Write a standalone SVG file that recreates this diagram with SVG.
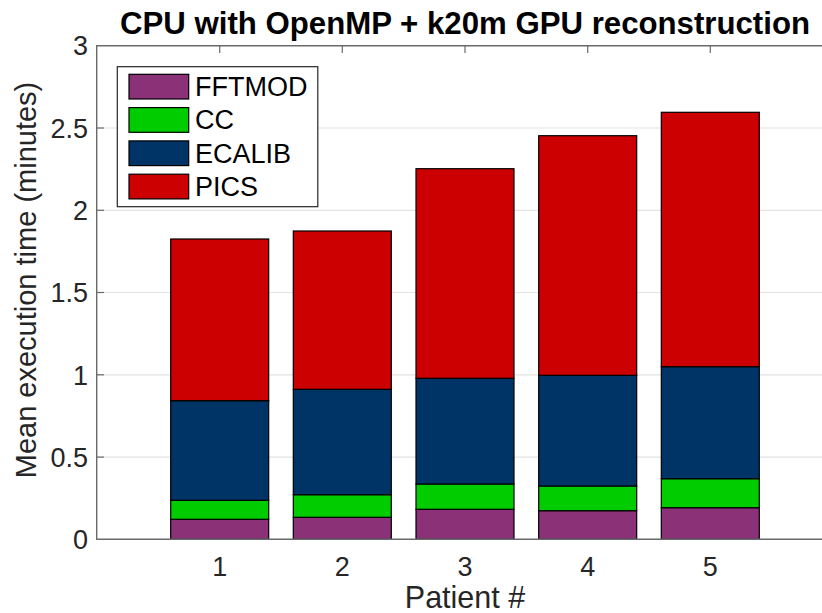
<svg xmlns="http://www.w3.org/2000/svg" width="822" height="613" viewBox="0 0 822 613">
  <style>
    .grid { stroke: #e3e3e3; stroke-width: 1.2; }
    .axis { stroke: #6a6a6a; stroke-width: 1.4; fill: none; }
    .tick { stroke: #6a6a6a; stroke-width: 1.2; }
    .lbl { font-family: "Liberation Sans", Arial, sans-serif; fill: #262626; }
    .ytl { font-size: 27px; text-anchor: end; }
    .xtl { font-size: 27px; text-anchor: middle; }
    .title { font-family: "Liberation Sans", Arial, sans-serif; font-weight: bold; font-size: 31.2px; fill: #000; text-anchor: middle; }
    .bar rect { stroke: #000; stroke-width: 1.2; }
    .fft { fill: #8B3178; }
    .cc { fill: #00CC00; }
    .ecalib { fill: #003366; }
    .pics { fill: #CC0000; }
    .leg { font-family: "Liberation Sans", Arial, sans-serif; font-size: 27px; fill: #000; }
  </style>
  <rect width="822" height="613" fill="#fff"/>

  <!-- horizontal grid -->
  <g id="grid">
    <line class="grid" x1="97" y1="457.1" x2="822" y2="457.1"/>
    <line class="grid" x1="97" y1="374.8" x2="822" y2="374.8"/>
    <line class="grid" x1="97" y1="292.5" x2="822" y2="292.5"/>
    <line class="grid" x1="97" y1="210.3" x2="822" y2="210.3"/>
    <line class="grid" x1="97" y1="128.0" x2="822" y2="128.0"/>
  </g>

  <!-- stacked bars -->
  <g id="bar1" class="bar">
    <rect class="fft" x="170.7" y="519.3" width="98" height="20"/>
    <rect class="cc" x="170.7" y="500.3" width="98" height="19"/>
    <rect class="ecalib" x="170.7" y="400.7" width="98" height="99.6"/>
    <rect class="pics" x="170.7" y="239" width="98" height="161.7"/>
  </g>
  <g id="bar2" class="bar">
    <rect class="fft" x="293.3" y="517.3" width="98" height="22"/>
    <rect class="cc" x="293.3" y="494.7" width="98" height="22.6"/>
    <rect class="ecalib" x="293.3" y="389.3" width="98" height="105.4"/>
    <rect class="pics" x="293.3" y="231" width="98" height="158.3"/>
  </g>
  <g id="bar3" class="bar">
    <rect class="fft" x="416" y="509.3" width="98" height="30"/>
    <rect class="cc" x="416" y="484" width="98" height="25.3"/>
    <rect class="ecalib" x="416" y="378.3" width="98" height="105.7"/>
    <rect class="pics" x="416" y="168.7" width="98" height="209.6"/>
  </g>
  <g id="bar4" class="bar">
    <rect class="fft" x="538.7" y="510.7" width="98" height="28.6"/>
    <rect class="cc" x="538.7" y="486" width="98" height="24.7"/>
    <rect class="ecalib" x="538.7" y="375.3" width="98" height="110.7"/>
    <rect class="pics" x="538.7" y="135.7" width="98" height="239.6"/>
  </g>
  <g id="bar5" class="bar">
    <rect class="fft" x="661.3" y="507.7" width="98" height="31.6"/>
    <rect class="cc" x="661.3" y="478.7" width="98" height="29"/>
    <rect class="ecalib" x="661.3" y="366.7" width="98" height="112"/>
    <rect class="pics" x="661.3" y="112.3" width="98" height="254.4"/>
  </g>

  <!-- axes frame and ticks -->
  <g id="axes">
    <path class="axis" d="M822,45.7 H96.7 V539.3 H822"/>
    <line class="tick" x1="96.7" y1="457.1" x2="104" y2="457.1"/>
    <line class="tick" x1="96.7" y1="374.8" x2="104" y2="374.8"/>
    <line class="tick" x1="96.7" y1="292.5" x2="104" y2="292.5"/>
    <line class="tick" x1="96.7" y1="210.3" x2="104" y2="210.3"/>
    <line class="tick" x1="96.7" y1="128.0" x2="104" y2="128.0"/>
    <line class="tick" x1="219.7" y1="45.7" x2="219.7" y2="53"/>
    <line class="tick" x1="342.3" y1="45.7" x2="342.3" y2="53"/>
    <line class="tick" x1="465" y1="45.7" x2="465" y2="53"/>
    <line class="tick" x1="587.7" y1="45.7" x2="587.7" y2="53"/>
    <line class="tick" x1="710.3" y1="45.7" x2="710.3" y2="53"/>
  </g>

  <!-- tick labels -->
  <g id="yticklabels" class="lbl ytl">
    <text x="88" y="549">0</text>
    <text x="88" y="466.8">0.5</text>
    <text x="88" y="384.5">1</text>
    <text x="88" y="302.2">1.5</text>
    <text x="88" y="220">2</text>
    <text x="88" y="137.7">2.5</text>
    <text x="88" y="55.4">3</text>
  </g>
  <g id="xticklabels" class="lbl xtl">
    <text x="219.7" y="576">1</text>
    <text x="342.3" y="576">2</text>
    <text x="465" y="576">3</text>
    <text x="587.7" y="576">4</text>
    <text x="710.3" y="576">5</text>
  </g>

  <!-- axis labels and title -->
  <text class="lbl" x="465" y="608" font-size="30.5" text-anchor="middle">Patient #</text>
  <text class="lbl" x="0" y="0" font-size="29" text-anchor="middle" transform="translate(36,280) rotate(-90)">Mean execution time (minutes)</text>
  <text class="title" x="465" y="34">CPU with OpenMP + k20m GPU reconstruction</text>

  <!-- legend -->
  <g id="legend">
    <rect x="117.3" y="66.7" width="200.5" height="140" fill="#fff" stroke="#262626" stroke-width="1.2"/>
    <g class="bar">
      <rect class="fft" x="129" y="74.3" width="59.7" height="24.7" stroke="#333"/>
      <rect class="cc" x="129" y="107.6" width="59.7" height="24.7"/>
      <rect class="ecalib" x="129" y="140.9" width="59.7" height="24.7"/>
      <rect class="pics" x="129" y="174.2" width="59.7" height="24.7"/>
    </g>
    <text class="leg" x="195" y="96">FFTMOD</text>
    <text class="leg" x="195" y="129.3">CC</text>
    <text class="leg" x="195" y="162.6">ECALIB</text>
    <text class="leg" x="195" y="195.9">PICS</text>
  </g>
</svg>
